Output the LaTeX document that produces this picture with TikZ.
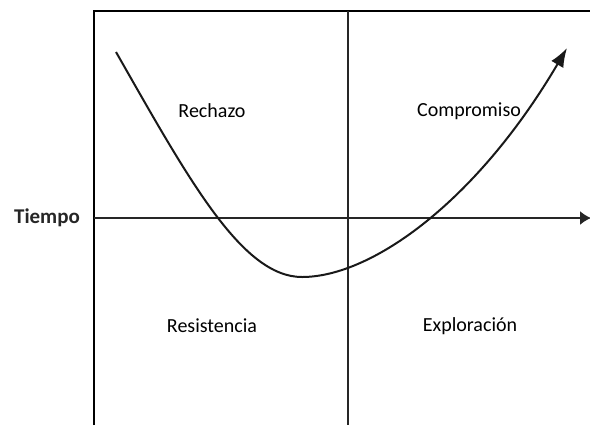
\documentclass[tikz,border=0pt]{standalone}
\usepackage{fontspec}
\setmainfont{Carlito}
\usetikzlibrary{arrows.meta}

\begin{document}
\begin{tikzpicture}[
  x=1bp, y=-1bp,
  frame/.style={black, line width=2.6bp},
  divider/.style={black!85, line width=1.6bp},
  curve/.style={black!90, line width=2bp, -{Latex[length=19bp, width=14bp]}},
  quad/.style={font=\fontsize{20bp}{24bp}\selectfont, text=black},
  axislabel/.style={font=\fontsize{21bp}{24bp}\selectfont\bfseries, text=black!85}
]
\useasboundingbox (0,0) rectangle (590,425);

% frame corners and axes ends
\coordinate (tl) at (94,11);
\coordinate (tr) at (590,11);
\coordinate (bl) at (94,425);
\coordinate (tm) at (348,11);
\coordinate (bm) at (348,425);
\coordinate (ax0) at (94,218);
\coordinate (ax1) at (591,218);

\draw[frame] (bl) -- (tl) -- (tr);
\draw[divider] (tm) -- (bm);
\draw[divider, -{Latex[length=11bp, width=14bp]}] (ax0) -- (ax1);

% labels
\node[axislabel] (tiempo) at (47,218) {Tiempo};
\node[quad] (rechazo) at (212,111) {Rechazo};
\node[quad] (compromiso) at (469,111) {Compromiso};
\node[quad] (resistencia) at (212,326) {Resistencia};
\node[quad] (exploracion) at (470,326) {Exploración};

% the curve
\coordinate (c0) at (116,52);
\coordinate (cmin) at (302,277);
\coordinate (c1) at (567,48);
\draw[curve] (c0) .. controls (189,180) and (242,277) .. (cmin)
  .. controls (372,277) and (477,201) .. (c1);
\end{tikzpicture}
\end{document}
